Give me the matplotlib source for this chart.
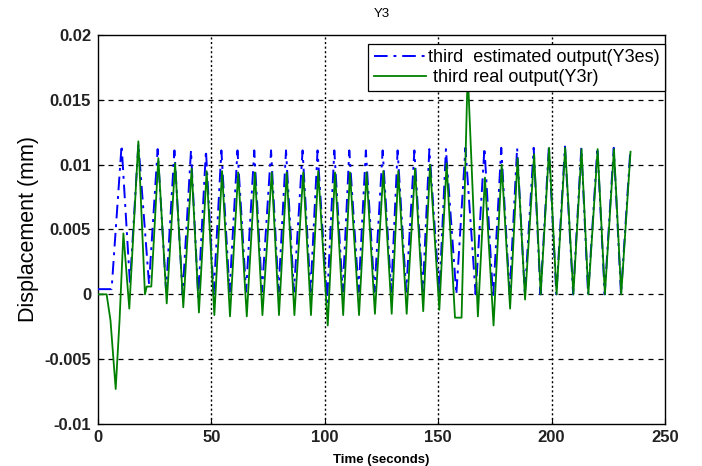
import matplotlib
matplotlib.use("Agg")
import matplotlib.pyplot as plt

plt.rcParams['font.family'] = ['Liberation Sans', 'DejaVu Sans']

# Real output (Y3r) - turning points
real_t = [0, 3.8, 5.5, 7.8, 9.5, 11.2, 13.8, 17.8, 20.7, 21.5, 23.5, 26.6,
          30.3, 34.0, 37.6, 41.3, 44.5, 47.9, 51.3, 54.7, 58.2, 61.8, 65.6,
          69.2, 72.5, 76.6, 79.8, 83.2, 86.6, 90.5, 93.9, 97.1, 101.3, 104.5,
          108.1, 111.1, 115.1, 118.4, 122.1, 125.8, 129.5, 132.4, 136.1,
          139.8, 143.4, 146.4, 150.5, 153.7, 157.4, 160.3, 163.0, 167.5,
          170.6, 174.4, 178.0, 181.7, 185.0, 188.3, 192.3, 195.2, 198.9,
          202.2, 206.0, 209.6, 213.2, 216.2, 220.3, 223.5, 227.5, 230.7, 234.8]
real_y = [0, 0, -0.002, -0.0073, -0.002, 0.0047, -0.0011, 0.0118, 0.0000,
          0.0006, 0.0006, 0.0105, -0.0007, 0.0101, -0.0010, 0.0097, -0.0014,
          0.0095, -0.0016, 0.0095, -0.0017, 0.0094, -0.0017, 0.0094, -0.0016,
          0.0094, -0.0016, 0.0094, -0.0016, 0.0094, -0.0016, 0.0095, -0.0024,
          0.0094, -0.0016, 0.0094, -0.0016, 0.0094, -0.0015, 0.0095, -0.0015,
          0.0095, -0.0015, 0.0097, -0.0013, 0.0100, -0.0012, 0.0101, -0.0018,
          -0.0018, 0.0172, -0.0017, 0.0090, -0.0024, 0.0100, -0.0011, 0.0105,
          -0.0004, 0.0108, 0.0000, 0.0113, 0.0000, 0.0113, 0.0000, 0.0112,
          0.0000, 0.0112, 0.0000, 0.0112, 0.0000, 0.0110]

# Estimated output (Y3es)
est_t = [0, 6.0, 10.4, 14.1, 17.8, 22.5, 26.3, 30.0, 33.7, 37.3, 41.0, 44.2,
         47.6, 51.0, 54.4, 58.0, 61.5, 65.3, 68.9, 72.3, 76.3, 79.6, 82.9,
         86.4, 90.2, 93.7, 96.8, 101.0, 104.2, 107.9, 110.8, 114.9, 118.1,
         121.9, 125.5, 129.3, 132.1, 135.9, 139.5, 143.2, 146.1, 150.5, 153.4,
         158.0, 162.0, 166.5, 170.4, 174.2, 177.8, 181.5, 184.8, 188.2, 192.1,
         195.1, 198.8, 202.1, 205.9, 209.5, 213.1, 216.1, 220.2, 223.4, 227.4,
         230.6, 234.7]
est_y = [0.0004, 0.0004, 0.0115, 0.0008, 0.0116, 0.0008, 0.0112, 0.0003,
         0.0111, 0.0000, 0.0111, -0.0002, 0.0111, 0.0000, 0.0111, 0.0002,
         0.0111, 0.0002, 0.0111, 0.0002, 0.0111, 0.0002, 0.0111, 0.0002,
         0.0111, 0.0002, 0.0111, -0.0006, 0.0111, 0.0002, 0.0111, 0.0002,
         0.0111, 0.0002, 0.0111, 0.0002, 0.0111, 0.0002, 0.0111, 0.0002,
         0.0112, 0.0000, 0.0112, 0.0000, 0.0113, 0.0000, 0.0113, -0.0003,
         0.0113, 0.0000, 0.0113, 0.0000, 0.0113, 0.0000, 0.0114, 0.0000,
         0.0114, 0.0000, 0.0113, 0.0000, 0.0113, 0.0000, 0.0113, 0.0000,
         0.0111]

x_ticks = [0, 50, 100, 150, 200, 250]
y_ticks = [-0.01, -0.005, 0, 0.005, 0.01, 0.015, 0.02]
y_tick_labels = ['-0.01', '-0.005', '0', '0.005', '0.01', '0.015', '0.02']

fig = plt.figure(figsize=(7.02, 4.66), dpi=100)
ax = fig.add_axes([98 / 702, 42 / 466, 567 / 702, 389 / 466])

ax.plot(est_t, est_y, color='#0000ff', lw=1.4, linestyle=(0, (7, 3, 1.5, 3)),
        label='third  estimated output(Y3es)', zorder=3)
ax.plot(real_t, real_y, color='#008000', lw=1.3,
        label=' third real output(Y3r)', zorder=4)

ax.set_xlim(0, 250)
ax.set_ylim(-0.01, 0.02)
ax.set_xticks(x_ticks)
ax.set_yticks(y_ticks)
ax.set_yticklabels(y_tick_labels)

for v in y_ticks[1:-1]:
    ax.axhline(v, color='black', lw=0.9, linestyle=(0, (4, 4)), zorder=1)
for v in x_ticks[1:-1]:
    ax.axvline(v, color='black', lw=1.0, linestyle=(0, (1.5, 1.8)), zorder=1)

ax.tick_params(direction='in', length=4, width=0.8, labelsize=12)
ax.tick_params(axis='x', pad=4)
ax.tick_params(axis='y', pad=5)
for lbl in ax.get_xticklabels() + ax.get_yticklabels():
    lbl.set_fontweight('bold')
    lbl.set_color('#222222')
for s in ax.spines.values():
    s.set_linewidth(1.0)

ax.set_title('Y3', fontsize=9.5, pad=13)
ax.set_ylabel('Displacement (mm)', fontsize=15.5, labelpad=4)
ax.set_xlabel('Time (seconds)', fontsize=9.5, fontweight='bold', labelpad=7)

leg = ax.legend(loc='upper right', bbox_to_anchor=(1.0, 0.977), fontsize=13,
                frameon=True, fancybox=False, framealpha=1, edgecolor='black',
                borderpad=0.3, labelspacing=0.15, handlelength=2.9,
                handletextpad=0.1, borderaxespad=0.0)
leg.get_frame().set_linewidth(0.9)
leg.set_zorder(10)

fig.savefig('out.png', dpi=100)
